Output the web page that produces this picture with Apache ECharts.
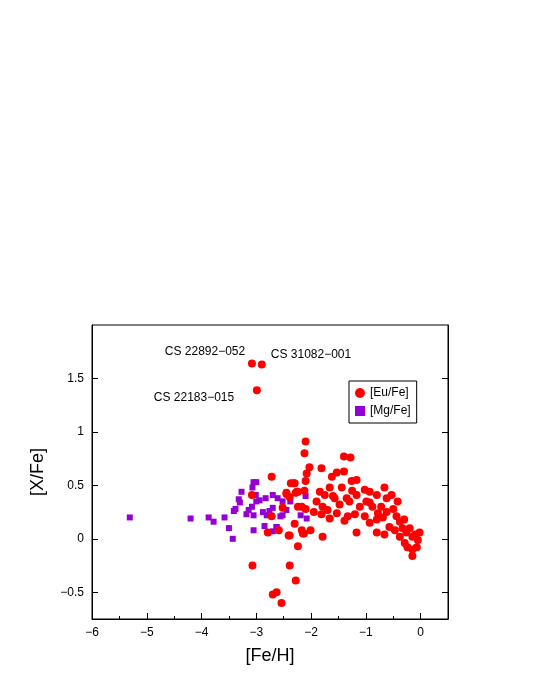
<!DOCTYPE html><html><head><meta charset="utf-8">
<script src="https://cdn.jsdelivr.net/npm/echarts@6/dist/echarts.min.js"></script>
<style>html,body{margin:0;background:#fff}#c{width:540px;height:699px}</style></head><body><div id="c"></div>
<script>
const euFe = [[-3.08,1.64],[-2.90,1.63],[-2.99,1.39],
[-2.72,0.58],[-3.08,0.41],[-3.07,-0.25],[-2.79,0.06],[-2.72,0.21],[-2.59,0.08],[-2.70,-0.52],[-2.63,-0.50],[-2.54,-0.60],
[-2.39,-0.25],[-2.28,-0.39],[-2.24,-0.07],[-2.39,0.03],[-2.30,0.14],[-2.52,0.29],[-2.45,0.43],[-2.39,0.39],[-2.37,0.52],
[-2.30,0.52],[-2.28,0.43],[-2.24,0.44],[-2.24,0.30],[-2.17,0.30],[-2.10,0.28],[-2.17,0.08],[-2.13,0.05],[-2.10,0.54],
[-2.08,0.61],[-2.12,0.45],[-2.10,0.91],[-2.12,0.80],[-2.03,0.67],[-1.81,0.66],[-2.32,0.52],[-2.45,0.42],[-2.26,0.44],
[-2.41,0.03],[-2.15,0.05],[-2.01,0.08],[-1.79,0.02],[-1.84,0.44],[-1.75,0.41],[-1.62,0.58],[-1.53,0.62],[-1.40,0.63],
[-1.40,0.77],[-1.28,0.76],[-1.26,0.54],[-1.17,0.55],[-1.66,0.48],[-1.44,0.48],[-1.57,0.38],[-1.35,0.38],[-1.17,0.41],
[-1.79,0.30],[-1.70,0.27],[-1.81,0.23],[-1.66,0.19],[-1.39,0.17],[-1.33,0.21],[-1.20,0.23],[-1.17,0.06],[-1.02,0.46],
[-0.93,0.44],[-0.99,0.35],[-0.88,0.30],[-0.80,0.41],[-0.66,0.48],[-0.62,0.38],[-0.53,0.41],[-0.42,0.35],[-1.02,0.21],
[-0.93,0.15],[-0.80,0.18],[-0.78,0.24],[-0.69,0.20],[-0.62,0.25],[-0.80,0.06],[-0.66,0.04],[-0.57,0.11],[-0.44,0.21],
[-0.47,0.08],[-0.38,0.16],[-0.33,0.10],[-0.26,0.06],[-0.20,0.10],[-0.15,0.02],[-0.02,0.06],[-0.29,-0.04],[-0.24,-0.08],
[-0.15,-0.10],[-0.07,-0.08],[-0.15,-0.16],[-0.05,-0.01],[-0.38,0.02],[-0.93,0.34],[-1.30,0.35],[-1.11,0.30],[-1.48,0.32],
[-1.53,0.24],[-1.60,0.40],[-1.25,0.45],[-0.72,0.30],[-0.50,0.28],[-0.30,0.18],[-0.10,0.04],[-1.90,0.35],[-1.95,0.25]];
const mgFe = [[-5.31,0.20],[-4.20,0.19],[-3.87,0.20],[-3.78,0.16],[-3.58,0.20],[-3.50,0.10],[-3.43,0.0],[-3.41,0.26],
[-3.38,0.28],[-3.32,0.37],[-3.30,0.34],[-3.27,0.44],[-3.18,0.23],[-3.14,0.27],[-3.08,0.30],[-3.07,0.48],[-3.05,0.53],
[-3.0,0.53],[-3.05,0.22],[-3.05,0.08],[-3.01,0.41],[-3.0,0.35],[-2.94,0.36],[-2.88,0.25],[-2.85,0.12],[-2.83,0.38],
[-2.81,0.22],[-2.76,0.26],[-2.70,0.41],[-2.70,0.07],[-2.70,0.29],[-2.63,0.11],[-2.61,0.38],[-2.56,0.21],[-2.52,0.35],
[-2.45,0.27],[-2.38,0.35],[-2.19,0.22],[-2.10,0.40],[-2.08,0.19],[-2.52,0.22],[-2.63,0.11]];
const yTicks = [-0.5,0,0.5,1,1.5];
const starLabels = [{t:'CS 22892\u2212052',x:205,y:352},{t:'CS 31082\u2212001',x:311,y:355},{t:'CS 22183\u2212015',x:194,y:398}];
const font='Liberation Sans, Arial, sans-serif';
const ch=echarts.init(document.getElementById('c'));
const fmt=v=>String(v).replace('-','\u2212');
ch.setOption({
 animation:false,
 grid:{left:92,right:92,top:325,bottom:80,show:true,borderColor:'#000',borderWidth:1},
 legend:{left:349,top:381,orient:'vertical',itemWidth:10,itemHeight:10,itemGap:6,padding:[6,6],
  borderColor:'#000',borderWidth:1,textStyle:{fontFamily:font,fontSize:12,color:'#000'},data:['[Eu/Fe]','[Mg/Fe]']},
 xAxis:[{type:'value',min:-6,max:0.5,interval:1,name:'[Fe/H]',nameLocation:'middle',nameGap:28,
  nameTextStyle:{fontFamily:font,fontSize:18,color:'#000'},splitLine:{show:false},
  axisLine:{onZero:false,lineStyle:{color:'#000'}},axisTick:{inside:true,length:6,lineStyle:{color:'#000'}},
  minorTick:{show:true,splitNumber:2,length:3,lineStyle:{color:'#000'}},
  axisLabel:{showMaxLabel:false,formatter:fmt,fontFamily:font,fontSize:12,color:'#000'}}],
 yAxis:[{type:'value',min:-0.75,max:2,name:'[X/Fe]',nameLocation:'middle',nameGap:45,
  nameTextStyle:{fontFamily:font,fontSize:18,color:'#000'},splitLine:{show:false},
  axisLine:{onZero:false,lineStyle:{color:'#000'}},axisTick:{inside:true,length:6,customValues:yTicks,lineStyle:{color:'#000'}},
  axisLabel:{customValues:yTicks,formatter:fmt,fontFamily:font,fontSize:12,color:'#000'}},
  {type:'value',min:-0.75,max:2,position:'right',splitLine:{show:false},
  axisLine:{show:true,onZero:false,lineStyle:{color:'#000'}},axisTick:{inside:true,length:6,customValues:yTicks,lineStyle:{color:'#000'}},
  axisLabel:{show:false,customValues:yTicks}}],
 series:[
  {name:'[Eu/Fe]',type:'scatter',symbol:'circle',symbolSize:8,itemStyle:{color:'#ff0000',opacity:1},data:euFe,z:3},
  {name:'[Mg/Fe]',type:'scatter',symbol:'rect',symbolSize:6,itemStyle:{color:'#9400d3',opacity:1},data:mgFe,z:2}
 ],
 graphic:starLabels.map(s=>({type:'text',x:s.x,y:s.y,style:{text:s.t,fill:'#000',font:'12px '+font,textAlign:'center',textVerticalAlign:'middle'}}))
});
</script></body></html>
